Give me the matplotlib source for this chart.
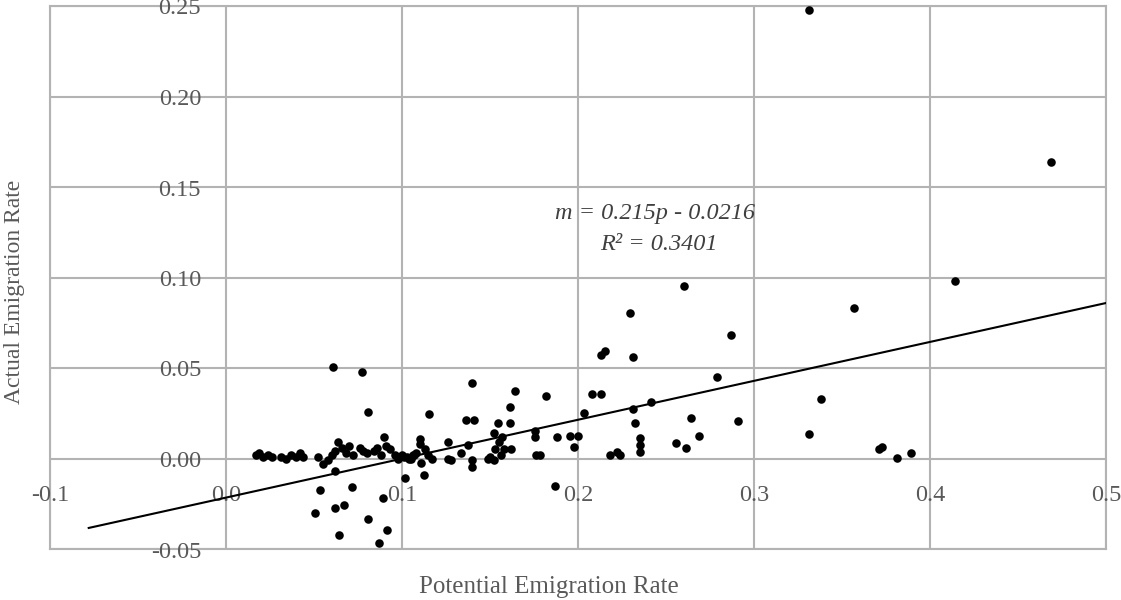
import matplotlib
matplotlib.use("Agg")
import matplotlib.pyplot as plt
from matplotlib.transforms import offset_copy
import numpy as np

# ---------------- data ----------------
potential = [
    0.017, 0.019, 0.021, 0.024, 0.026, 0.031, 0.034, 0.037, 0.040, 0.042, 0.044,
    0.052, 0.055, 0.058, 0.060, 0.062, 0.066, 0.068, 0.070, 0.072, 0.076, 0.078,
    0.080, 0.084, 0.086, 0.088, 0.091, 0.093, 0.096, 0.098, 0.100, 0.103, 0.105, 0.107,
    0.101, 0.104, 0.106, 0.108,
    0.110, 0.110, 0.113, 0.115, 0.117, 0.111, 0.1125, 0.1015,
    0.1153,
    0.126, 0.126, 0.128, 0.1335, 0.1375, 0.140, 0.140, 0.140,
    0.1365, 0.141,
    0.150, 0.152, 0.149, 0.153, 0.155, 0.157, 0.152, 0.1546, 0.1614, 0.158, 0.162, 0.156,
    0.1614, 0.164, 0.182,
    0.1757, 0.1757, 0.1763, 0.1785,
    0.187,
    0.188, 0.1956, 0.2001, 0.198, 0.2035,
    0.208, 0.213, 0.213, 0.2155, 0.231, 0.2297, 0.260, 0.287, 0.279,
    0.231, 0.2416, 0.2325, 0.2643, 0.291, 0.269, 0.2558, 0.2615,
    0.2353, 0.2353, 0.2353, 0.218, 0.222, 0.224,
    0.331, 0.469, 0.414, 0.357, 0.338, 0.331, 0.371, 0.373, 0.381, 0.389,
    0.062, 0.0535, 0.0716, 0.0893, 0.0506, 0.062, 0.067, 0.0807, 0.0642, 0.0915, 0.087,
    0.0608, 0.0773, 0.0807, 0.0898, 0.0637,
]
actual = [
    0.002, 0.003, 0.001, 0.002, 0.001, 0.001, 0.000, 0.002, 0.001, 0.003, 0.001,
    0.001, -0.003, -0.001, 0.002, 0.004, 0.006, 0.003, 0.007, 0.002, 0.006, 0.004,
    0.003, 0.004, 0.006, 0.002, 0.007, 0.005, 0.002, 0.000, 0.002, 0.001, 0.000, 0.002,
    0.001, 0.000, 0.002, 0.003,
    0.011, 0.008, 0.005, 0.002, 0.000, -0.0025, -0.009, -0.011,
    0.0246,
    0.009, 0.000, -0.001, 0.003, 0.0075, -0.001, -0.0047, 0.0418,
    0.0213, 0.0213,
    0.001, -0.001, 0.000, 0.005, 0.009, 0.012, 0.014, 0.0197, 0.0197, 0.005, 0.005, 0.002,
    0.0285, 0.0374, 0.0346,
    0.0152, 0.0119, 0.002, 0.002,
    -0.0152,
    0.0119, 0.0125, 0.0125, 0.0064, 0.0252,
    0.0357, 0.0357, 0.0572, 0.0594, 0.0562, 0.0805, 0.0953, 0.0682, 0.0451,
    0.0274, 0.0313, 0.0197, 0.0224, 0.0208, 0.0125, 0.0086, 0.0059,
    0.0113, 0.0075, 0.0037, 0.002, 0.0037, 0.002,
    0.248, 0.164, 0.098, 0.0832, 0.033, 0.0136, 0.0053, 0.0064, 0.0003, 0.003,
    -0.0068, -0.0174, -0.0157, -0.0218, -0.0301, -0.0273, -0.0256, -0.0334, -0.0422, -0.0395, -0.0466,
    0.0506, 0.0478, 0.0258, 0.0119, 0.0092,
]

slope = 0.215
intercept = -0.0216
trend_range = [-0.078, 0.5]

x_ticks = [-0.1, 0.0, 0.1, 0.2, 0.3, 0.4, 0.5]
x_tick_labels = ["-0.1", "0.0", "0.1", "0.2", "0.3", "0.4", "0.5"]
y_ticks = [-0.05, 0.00, 0.05, 0.10, 0.15, 0.20, 0.25]
y_tick_labels = ["-0.05", "0.00", "0.05", "0.10", "0.15", "0.20", "0.25"]

equation_text = "m = 0.215p - 0.0216"
r2_text = "R² = 0.3401"
x_title = "Potential Emigration Rate"
y_title = "Actual Emigration Rate"

# ---------------- figure ----------------
W, H, DPI = 1121, 600, 100
fig = plt.figure(figsize=(W / DPI, H / DPI), dpi=DPI)
left, right, top, bottom = 50, 1106, 6, 549
ax = fig.add_axes([left / W, (H - bottom) / H, (right - left) / W, (bottom - top) / H])

serif = ["Liberation Serif", "DejaVu Serif"]
txt_color = "#595959"
grid_color = "#b3b3b3"

ax.set_xlim(-0.1, 0.5)
ax.set_ylim(-0.05, 0.25)
ax.set_xticks(x_ticks)
ax.set_yticks(y_ticks)
ax.tick_params(length=0, labelbottom=False, labelleft=False)
ax.grid(True, color=grid_color, linewidth=1.5)
ax.set_axisbelow(True)
for s in ax.spines.values():
    s.set_color(grid_color)
    s.set_linewidth(1.5)

# scatter
ax.scatter(potential, actual, s=38, color="black", marker="o", linewidths=0, zorder=3)

# trendline
tx = np.array(trend_range)
ax.plot(tx, slope * tx + intercept, color="black", linewidth=1.5, zorder=4)

# tick labels (axes crossing at zero)
ytrans = offset_copy(ax.transData, fig=fig, x=-25, y=-3, units="dots")
for v, lab in zip(y_ticks, y_tick_labels):
    ax.text(0.0, v, lab, transform=ytrans, ha="right", va="center",
            fontsize=17.5, family=serif, color=txt_color, clip_on=False)
xtrans = offset_copy(ax.transData, fig=fig, x=0, y=-37, units="dots")
for v, lab in zip(x_ticks, x_tick_labels):
    ax.text(v, 0.0, lab, transform=xtrans, ha="center", va="center",
            fontsize=17.5, family=serif, color=txt_color, clip_on=False)

# axis titles
fig.text(549 / W, 1 - 587 / H, x_title, ha="center", va="center",
         fontsize=18, family=serif, color=txt_color)
fig.text(15 / W, 1 - 292 / H, y_title, ha="center", va="center", rotation=90,
         fontsize=17, family=serif, color=txt_color)

# equation
fig.text(655 / W, 1 - 213 / H, equation_text, ha="center", va="center",
         fontsize=17.5, family=serif, style="italic", color="#404040")
fig.text(659 / W, 1 - 244 / H, r2_text, ha="center", va="center",
         fontsize=17.5, family=serif, style="italic", color="#404040")

fig.savefig("out.png", dpi=DPI)
